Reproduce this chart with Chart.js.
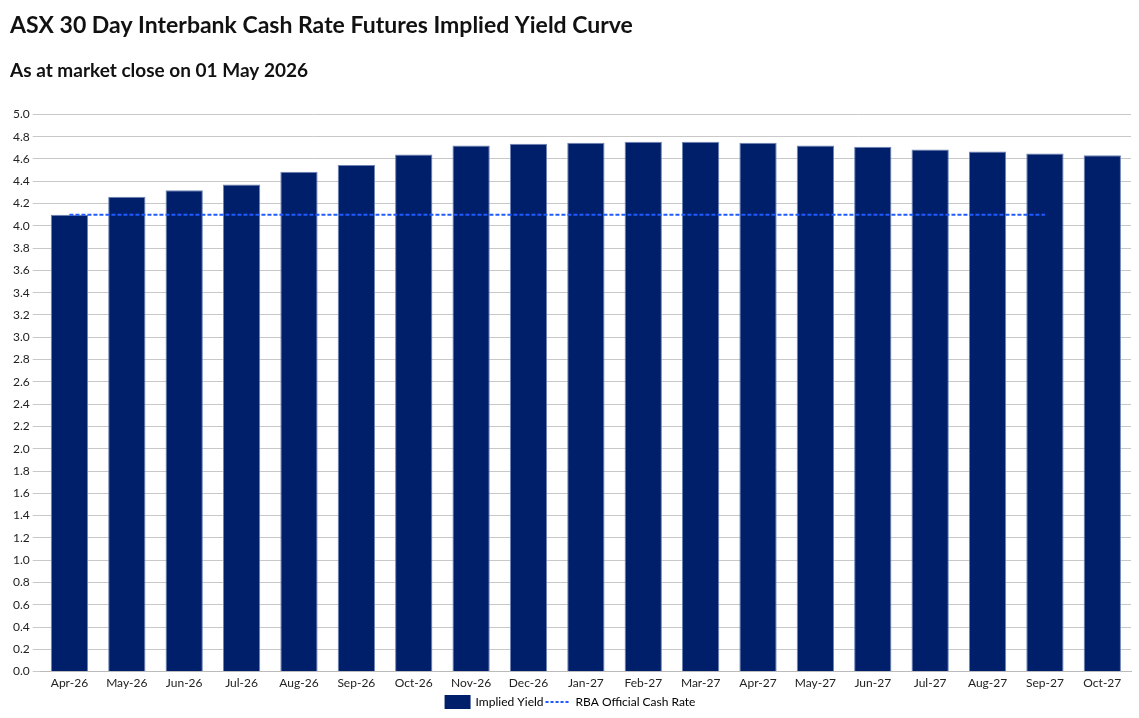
<!DOCTYPE html>
<html><head><meta charset="utf-8">
<script src="https://cdn.jsdelivr.net/npm/chart.js@4"></script>
<style>body{margin:0;background:#fff}#w{position:absolute;left:0;top:0;width:1139px;height:718px}</style>
</head><body><div id="w"><canvas id="c"></canvas></div>
<script>
const categories=["Apr-26","May-26","Jun-26","Jul-26","Aug-26","Sep-26","Oct-26","Nov-26","Dec-26","Jan-27","Feb-27","Mar-27","Apr-27","May-27","Jun-27","Jul-27","Aug-27","Sep-27","Oct-27"];
const impliedYield=[4.10,4.26,4.32,4.37,4.485,4.545,4.64,4.72,4.737,4.745,4.754,4.754,4.745,4.72,4.71,4.685,4.667,4.65,4.633];
const rbaRate=[4.10,4.10,4.10,4.10,4.10,4.10,4.10,4.10,4.10,4.10,4.10,4.10,4.10,4.10,4.10,4.10,4.10,4.10,null];
const titleText="ASX 30 Day Interbank Cash Rate Futures Implied Yield Curve";
const subtitleText="As at market close on 01 May 2026";
Chart.defaults.font.family="Lato, 'DejaVu Sans', sans-serif";
Chart.defaults.color="#222";
new Chart(document.getElementById('c'),{
 data:{labels:categories,datasets:[
  {type:'line',label:'RBA Official Cash Rate',data:rbaRate,borderColor:'#1f5bff',borderWidth:2,borderDash:[4,2],pointRadius:0,fill:false,order:0},
  {type:'bar',label:'Implied Yield',data:impliedYield,backgroundColor:'#001f6b',borderColor:'#6f84b5',borderWidth:1,categoryPercentage:1,barPercentage:0.65,order:1}
 ]},
 options:{responsive:true,maintainAspectRatio:false,animation:false,
  layout:{padding:{left:10,right:8,top:8,bottom:0}},
  plugins:{
   title:{display:true,text:titleText,align:'start',font:{size:23,weight:'bold'},color:'#111',padding:{top:4,bottom:20}},
   subtitle:{display:true,text:subtitleText,align:'start',font:{size:19,weight:'bold'},color:'#111',padding:{bottom:32}},
   legend:{position:'bottom',labels:{font:{size:12},usePointStyle:true,pointStyleWidth:24,boxHeight:12,padding:2,
    generateLabels(ch){return ch.data.datasets.slice().reverse().map(d=>({text:d.label,pointStyle:d.type==='bar'?'rect':'line',fillStyle:d.type==='bar'?d.backgroundColor:d.borderColor,strokeStyle:d.type==='bar'?d.backgroundColor:d.borderColor,lineWidth:2,lineDash:d.type==='bar'?[]:[3,2],datasetIndex:ch.data.datasets.indexOf(d)}));}}},
   tooltip:{enabled:false}},
  scales:{
   x:{grid:{display:false,drawTicks:false},border:{color:'#bbb'},ticks:{padding:4,font:{size:12},color:'#222',maxRotation:0,autoSkip:false}},
   y:{min:0,max:5,ticks:{stepSize:0.2,font:{size:12},color:'#222',callback:v=>v.toFixed(1)},grid:{color:'#c8c8c8'},border:{display:false}}
  }}
});
</script></body></html>
